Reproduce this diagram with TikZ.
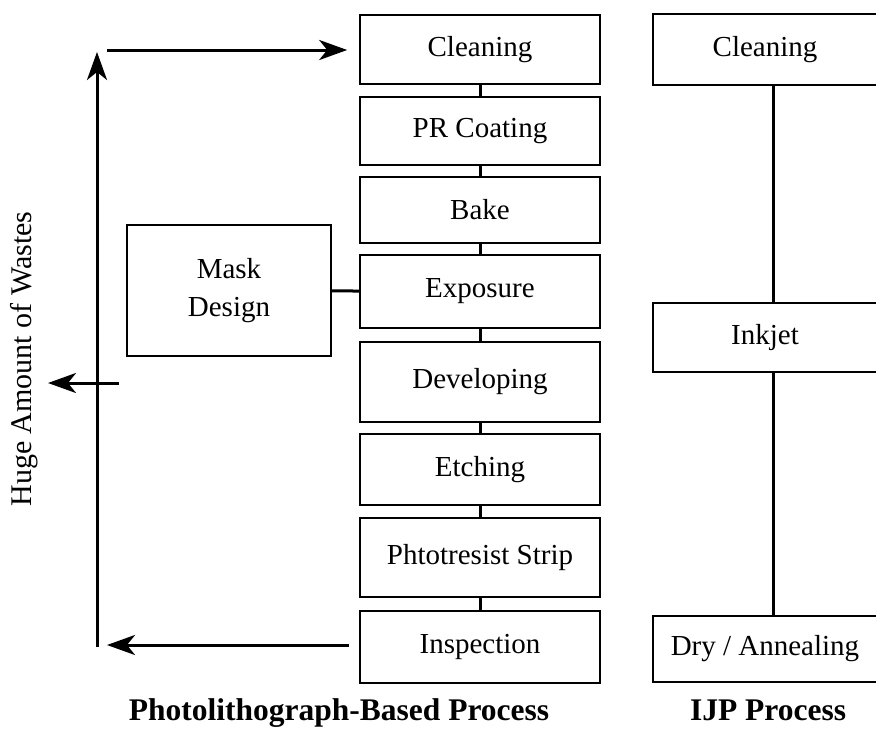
\documentclass[tikz,border=0pt]{standalone}
\usepackage{fontspec}
\setmainfont{Liberation Serif}
\usepackage{tikz}
\usetikzlibrary{positioning,arrows.meta}
\tikzset{
  node-box/.style={draw=black,line width=1.6pt,inner sep=0pt,align=center,
    minimum width=240pt,font=\fontsize{29}{32}\selectfont},
  node-ijp/.style={node-box,minimum width=224pt},
  link/.style={line width=3pt,draw=black},
  arrow-waste/.style={-{Stealth[length=28pt,width=20pt,inset=8pt]},line width=3pt,draw=black},
  title/.style={font=\fontsize{31.5}{35}\selectfont\bfseries,anchor=base},
}

\begin{document}
\begin{tikzpicture}[x=1pt,y=-1pt]
  \useasboundingbox (0,0) rectangle (876,729);
  % photolithography column
  \node[node-box,minimum height=69pt] (clean) at (480,49.5)  {Cleaning};
  \node[node-box,minimum height=68pt] (coat)  at (480,131)   {PR Coating};
  \node[node-box,minimum height=66pt] (bake)  at (480,210)   {Bake};
  \node[node-box,minimum height=73pt] (expo)  at (480,291.5) {Exposure};
  \node[node-box,minimum height=80pt] (devel) at (480,382)   {Developing};
  \node[node-box,minimum height=71pt] (etch)  at (480,469.5) {Etching};
  \node[node-box,minimum height=79pt] (strip) at (480,557.5) {Phtotresist Strip};
  \node[node-box,minimum height=72pt] (insp)  at (480,647)   {Inspection};
  \node[node-box,minimum width=204pt,minimum height=131pt,
    font=\fontsize{29}{38}\selectfont] (mask) at (229,290.5) {Mask\\Design};
  \draw[link] (clean) -- (coat);
  \draw[link] (coat) -- (bake);
  \draw[link] (bake) -- (expo);
  \draw[link] (expo) -- (devel);
  \draw[link] (devel) -- (etch);
  \draw[link] (etch) -- (strip);
  \draw[link] (strip) -- (insp);
  \draw[link] (mask) -- (expo);
  % IJP column
  \node[node-ijp,minimum height=71pt] (iclean) at (765,49.5)  {Cleaning};
  \node[node-ijp,minimum height=69pt] (inkjet) at (765,337.5) {Inkjet};
  \node[node-ijp,minimum height=66pt] (dry)    at (765,649)   {Dry / Annealing};
  \draw[link] (iclean.south -| 773,0) -- (inkjet.north -| 773,0);
  \draw[link] (inkjet.south -| 773,0) -- (dry.north -| 773,0);
  % waste loop
  \coordinate (w-bot)  at (97,647);
  \coordinate (w-top)  at (97,52);
  \coordinate (w-in)   at (107,50);
  \coordinate (w-out)  at (107,645);
  \coordinate (w-mid)  at (119,383);
  \coordinate (w-left) at (48,383);
  \draw[arrow-waste] (w-bot) -- (w-top);
  \draw[arrow-waste] (w-in) -- ([xshift=-12pt]clean.west |- w-in);
  \draw[arrow-waste] (w-mid) -- (w-left);
  \draw[arrow-waste] ([xshift=-10pt]insp.west |- w-out) -- (w-out);
  \node[rotate=90,font=\fontsize{30}{33}\selectfont] (waste) at (24,359) {Huge Amount of Wastes};
  % titles
  \node[title] (t-photo) at (339,720) {Photolithograph-Based Process};
  \node[title] (t-ijp)   at (768,720) {IJP Process};
\end{tikzpicture}
\end{document}
